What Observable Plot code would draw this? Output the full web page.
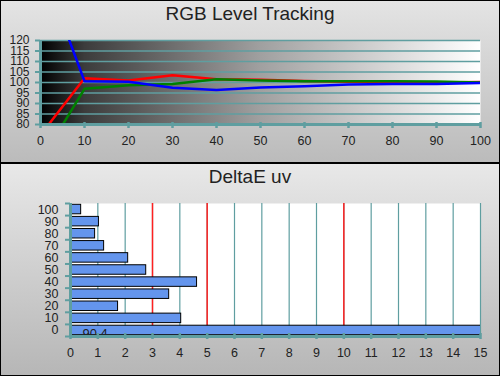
<!DOCTYPE html>
<html>
<head>
<meta charset="utf-8">
<script src="https://cdn.jsdelivr.net/npm/d3@7"></script>
<script src="https://cdn.jsdelivr.net/npm/@observablehq/plot@0.6"></script>
<style>
  html, body { margin: 0; padding: 0; background: #fff; }
  #chart { position: relative; width: 500px; height: 376px; overflow: hidden; font-family: "Liberation Sans", Arial, sans-serif; }
  .panel { position: absolute; left: 0; width: 500px; }
  #top { top: 0; height: 162px; background: linear-gradient(#e4e4e4, #bbbbbb); }
  #bottom { top: 164px; height: 212px; background: linear-gradient(#e8e8e8, #b6b6b6); }
  .title { position: absolute; left: 0; width: 500px; text-align: center; font-size: 19px; line-height: 19px; color: #222; }
  .panel svg { position: absolute; left: 0; top: 0; }
  #sep { position: absolute; left: 0; top: 162px; width: 500px; height: 2px; background: #000; }
  #frame { position: absolute; left: 0; top: 0; width: 500px; height: 376px; box-sizing: border-box; border: 1px solid #000; pointer-events: none; }
</style>
</head>
<body>
<div id="chart">
  <div class="panel" id="top"><div class="title" style="top:3.5px">RGB Level Tracking</div></div>
  <div id="sep"></div>
  <div class="panel" id="bottom"><div class="title" style="top:3px">DeltaE uv</div></div>
  <div id="frame"></div>
</div>
<script>
// ---- data ----
const levels = [0, 10, 20, 30, 40, 50, 60, 70, 80, 90, 100];
const redValues   = [75, 102, 101, 103.5, 101.5, 101.3, 100.7, 100.4, 100.2, 100, 100.3];
const greenValues = [62.5, 97, 98.7, 99.3, 101.6, 101, 100.6, 100.6, 100.6, 100.5, 100];
const blueValues  = [157, 100.6, 100.4, 97.5, 96.4, 97.6, 98.2, 99, 99.3, 99.3, 99.8];
const rgbXTicks = [0, 10, 20, 30, 40, 50, 60, 70, 80, 90, 100];
const rgbYTicks = [80, 85, 90, 95, 100, 105, 110, 115, 120];

const deltaLevels = [0, 10, 20, 30, 40, 50, 60, 70, 80, 90, 100];
const deltaValues = [90.4, 4.05, 1.74, 3.61, 4.63, 2.77, 2.11, 1.23, 0.9, 1.04, 0.39];
const deltaXTicks = [0, 1, 2, 3, 4, 5, 6, 7, 8, 9, 10, 11, 12, 13, 14, 15];
const deltaThresholds = [3, 5, 10];
const deltaBoundaries = [-5, 5, 15, 25, 35, 45, 55, 65, 75, 85, 95, 105];
const overflowLabel = [{level: 0, text: "90.4"}];

const teal = "#5f9ea0";
const font = "'Liberation Sans', Arial, sans-serif";

// ---- top chart ----
const rgbRows = (vals) => levels.map((l, i) => ({level: l, value: vals[i]}));

const gradientDefs = () => {
  const defs = document.createElementNS("http://www.w3.org/2000/svg", "defs");
  defs.innerHTML = `<linearGradient id="bwgrad" x1="0" x2="1" y1="0" y2="0">
    <stop offset="0" stop-color="#000"/>
    <stop offset="0.1" stop-color="#3c3c3c"/>
    <stop offset="0.5" stop-color="#a0a0a0"/>
    <stop offset="1" stop-color="#ffffff"/>
  </linearGradient>`;
  return defs;
};

const topPlot = Plot.plot({
  width: 500, height: 162,
  marginLeft: 40, marginRight: 20, marginTop: 40, marginBottom: 38,
  style: {background: "transparent", fontFamily: font, fontSize: "12px", color: "#222", overflow: "visible"},
  x: {domain: [0, 100], label: null},
  y: {domain: [80, 120], label: null},
  marks: [
    gradientDefs,
    Plot.frame({fill: "url(#bwgrad)", stroke: null}),
    Plot.ruleY(rgbYTicks.slice(1), {stroke: teal, strokeWidth: 1.5}),
    Plot.line(rgbRows(redValues), {x: "level", y: "value", stroke: "#ff0000", strokeWidth: 2.5, clip: true}),
    Plot.line(rgbRows(greenValues), {x: "level", y: "value", stroke: "#008000", strokeWidth: 2.5, clip: true}),
    Plot.line(rgbRows(blueValues), {x: "level", y: "value", stroke: "#0000ff", strokeWidth: 2.5, clip: true}),
    Plot.ruleY([80], {stroke: teal, strokeWidth: 3}),
    Plot.ruleX([0], {stroke: teal, strokeWidth: 3}),
    Plot.axisX({ticks: rgbXTicks, tickSize: 6, dy: -2, stroke: teal, strokeWidth: 2.5, tickFormat: () => "", label: null}),
    Plot.axisX({ticks: rgbXTicks, tickSize: 0, tickPadding: 12, fill: "#222", fontSize: 12.5, label: null}),
    Plot.axisY({ticks: rgbYTicks, tickSize: 5, stroke: teal, strokeWidth: 2, tickFormat: () => "", label: null}),
    Plot.axisY({ticks: rgbYTicks, tickSize: 0, tickPadding: 11, fill: "#222", fontSize: 12, label: null})
  ]
});
document.getElementById("top").appendChild(topPlot);

// ---- bottom chart ----
const deltaRows = deltaLevels.map((l, i) => ({level: l, value: deltaValues[i]}));

const bottomPlot = Plot.plot({
  width: 500, height: 212,
  marginLeft: 70, marginRight: 20, marginTop: 39, marginBottom: 40,
  style: {background: "transparent", fontFamily: font, fontSize: "12px", color: "#222", overflow: "visible"},
  x: {domain: [0, 15], label: null},
  y: {domain: [-5, 105], label: null},
  marks: [
    Plot.frame({fill: "#ffffff", stroke: null}),
    Plot.ruleX(deltaXTicks.slice(1), {stroke: teal, strokeWidth: 1.2}),
    Plot.ruleX(deltaThresholds, {stroke: "#ff2020", strokeWidth: 1.5}),
    Plot.rectX(deltaRows, {x1: 0, x2: "value", y1: d => d.level - 5, y2: d => d.level + 5, insetTop: 1.3, insetBottom: 1.3, fill: "#6495ed", stroke: "#000", strokeWidth: 1, clip: true}),
    Plot.text(overflowLabel, {x: 0, y: "level", text: "text", textAnchor: "start", dx: 12, dy: 3, fill: "#222", fontSize: 13}),
    Plot.ruleY([-5], {stroke: teal, strokeWidth: 3}),
    Plot.ruleX([0], {stroke: teal, strokeWidth: 3}),
    Plot.axisX({ticks: deltaXTicks, tickSize: 6, dy: -3, stroke: teal, strokeWidth: 2.5, tickFormat: () => "", label: null}),
    Plot.axisX({ticks: deltaXTicks, tickSize: 0, tickPadding: 12, fill: "#222", fontSize: 12.5, label: null}),
    Plot.axisY({ticks: deltaBoundaries, tickSize: 5, stroke: teal, strokeWidth: 2, tickFormat: () => "", label: null}),
    Plot.axisY({ticks: deltaLevels, tickSize: 0, tickPadding: 12, fill: "#222", fontSize: 12.5, label: null})
  ]
});
document.getElementById("bottom").appendChild(bottomPlot);
</script>
</body>
</html>
